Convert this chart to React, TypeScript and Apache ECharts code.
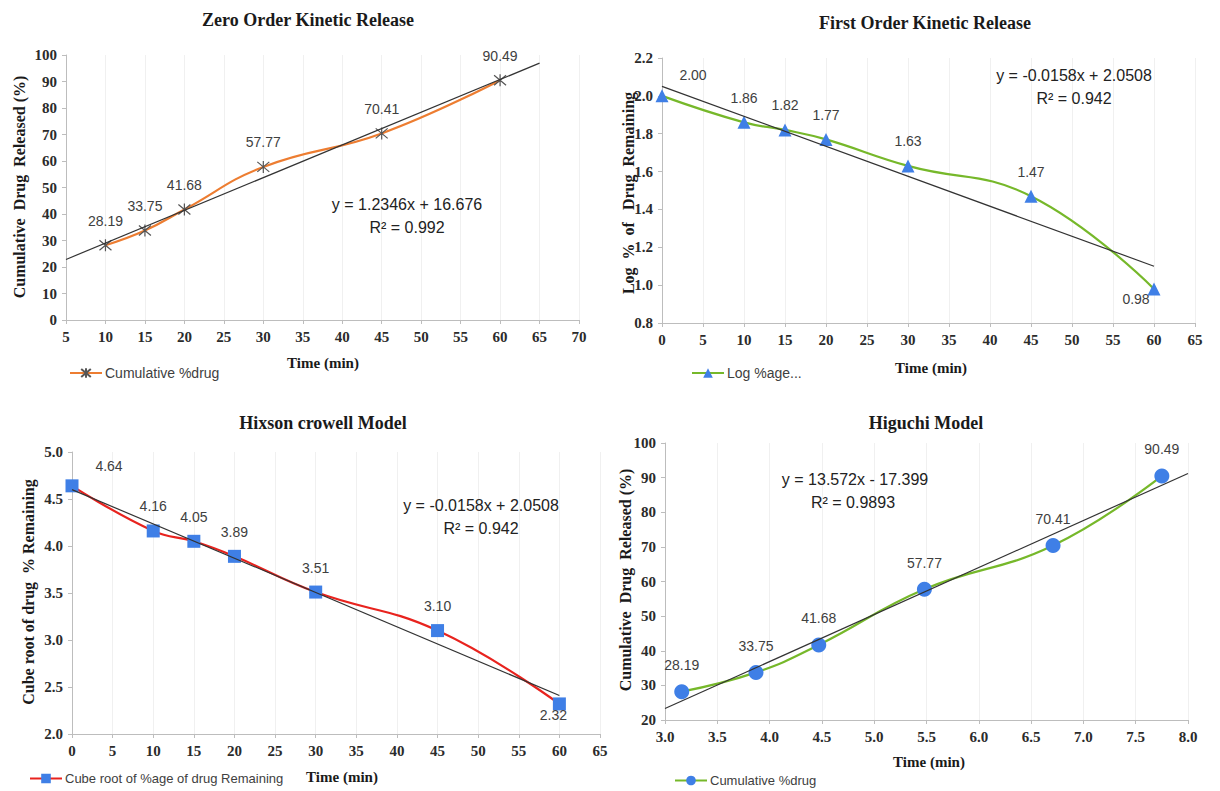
import React, { useEffect, useRef } from "react";
import * as echarts from "echarts";

// ---- Data ----
const TIME_MIN = [10, 15, 20, 30, 45, 60];
const CUM_DRUG = [28.19, 33.75, 41.68, 57.77, 70.41, 90.49];

const TIME_FO = [0, 10, 15, 20, 30, 45, 60];
const LOG_REMAINING = [2.0, 1.86, 1.82, 1.77, 1.63, 1.47, 0.98];

const TIME_HC = [0, 10, 15, 20, 30, 45, 60];
const CUBE_REMAINING = [4.64, 4.16, 4.05, 3.89, 3.51, 3.1, 2.32];

const SQRT_TIME = [3.16, 3.87, 4.47, 5.48, 6.71, 7.75];
const CUM_DRUG_HIG = [28.19, 33.75, 41.68, 57.77, 70.41, 90.49];

// trendline end points
const TREND_ZERO = [[5, 22.85], [65, 96.92]];
const TREND_FIRST = [[0, 2.05], [60, 1.1]];
const TREND_HC = [[0, 4.6], [60, 2.41]];
const TREND_HIG = [[3.0, 23.3], [8.0, 91.2]];

const TITLES = ["Zero Order Kinetic Release", "First Order Kinetic Release", "Hixson crowell Model", "Higuchi Model"];
const Y_NAMES = ["Cumulative  Drug  Released (%)", "Log  %  of   Drug  Remaining", "Cube root of drug  % Remaining", "Cumulative  Drug  Released (%)"];
const EQUATIONS = [
  ["y = 1.2346x + 16.676", "R² = 0.992"],
  ["y = -0.0158x + 2.0508", "R² = 0.942"],
  ["y = -0.0158x + 2.0508", "R² = 0.942"],
  ["y = 13.572x - 17.399", "R² = 0.9893"],
];
const LEGEND_NAMES: Record<string, string> = {
  zero: "Cumulative %drug",
  first: "Log %age...",
  hc: "Cube root of %age of drug Remaining",
  hig: "Cumulative %drug",
};

const SERIF = "'Liberation Serif', 'Times New Roman', serif";
const SANS = "'Liberation Sans', Arial, sans-serif";
const BLUE = "#3f7fe6";
const GREEN = "#76b82a";
const ORANGE = "#ed7d31";
const RED = "#e8231e";
const TREND = "#333333";

function pairs(xs: number[], ys: number[]) {
  return xs.map((x, i) => [x, ys[i]]);
}

const dec1 = (v: number) => v.toFixed(1);

function xAxis(gridIndex: number, min: number, max: number, interval: number, fmt?: (v: number) => string) {
  return {
    type: "value",
    gridIndex,
    min,
    max,
    interval,
    axisLine: { show: true, onZero: false, lineStyle: { color: "#bdbdbd" } },
    axisTick: { show: true, length: 4, lineStyle: { color: "#bdbdbd" } },
    axisLabel: { fontFamily: SERIF, fontSize: 15, fontWeight: "bold", color: "#2b2b2b", margin: 9, formatter: fmt },
    splitLine: { show: true, lineStyle: { color: "#f0f0f0" } },
  };
}

function yAxis(gridIndex: number, min: number, max: number, interval: number, fmt?: (v: number) => string) {
  return {
    type: "value",
    gridIndex,
    min,
    max,
    interval,
    axisLine: { show: true, onZero: false, lineStyle: { color: "#bdbdbd" } },
    axisTick: { show: true, length: 4, lineStyle: { color: "#bdbdbd" } },
    axisLabel: { fontFamily: SERIF, fontSize: 15, fontWeight: "bold", color: "#2b2b2b", margin: 9, formatter: fmt },
    splitLine: { show: false },
  };
}

const labelBase = {
  show: true,
  position: "top",
  distance: 11,
  fontFamily: SANS,
  fontSize: 14,
  color: "#404040",
  formatter: (p: any) => Number(p.value[1]).toFixed(2),
};

function withLabelOverrides(data: number[][], overrides: Record<number, any>) {
  return data.map((d, i) => (overrides[i] ? { value: d, label: overrides[i] } : d));
}

function trendSeries(idx: number, data: number[][]) {
  return {
    type: "line",
    xAxisIndex: idx,
    yAxisIndex: idx,
    data,
    symbol: "none",
    silent: true,
    z: 3,
    lineStyle: { color: TREND, width: 1.2 },
  };
}

function txt(x: number, y: number, text: string, font: any, extra: any = {}) {
  return {
    type: "text",
    x,
    y,
    z: 100,
    silent: true,
    ...extra,
    style: {
      text,
      fill: "#222",
      align: "center",
      verticalAlign: "middle",
      textAlign: "center",
      textVerticalAlign: "middle",
      ...font,
    },
  };
}

export default function App() {
  const ref = useRef<HTMLDivElement>(null);

  useEffect(() => {
    document.body.style.margin = "0";
    if (!ref.current) return;
    const chart = echarts.init(ref.current, undefined, { renderer: "svg" });

    const titleFont = { fontFamily: SERIF, fontSize: 18, fontWeight: "bold", fill: "#1a1a1a" };
    const axisNameFont = { fontFamily: SERIF, fontSize: 15, fontWeight: "bold", fill: "#1a1a1a" };
    const yNameFont = { fontFamily: SERIF, fontSize: 16, fontWeight: "bold", fill: "#1a1a1a" };
    const eqFont = { fontFamily: SANS, fontSize: 16, fill: "#222" };
    const ROT = Math.PI / 2;

    const option: any = {
      animation: false,
      backgroundColor: "#ffffff",
      grid: [
        { left: 66, top: 55, width: 513, height: 265 },
        { left: 662, top: 58, width: 533, height: 265 },
        { left: 72, top: 452, width: 528, height: 282 },
        { left: 665, top: 443, width: 523, height: 277 },
      ],
      xAxis: [
        xAxis(0, 5, 70, 5),
        xAxis(1, 0, 65, 5),
        xAxis(2, 0, 65, 5),
        xAxis(3, 3.0, 8.0, 0.5, dec1),
      ],
      yAxis: [
        yAxis(0, 0, 100, 10),
        yAxis(1, 0.8, 2.2, 0.2, dec1),
        yAxis(2, 2.0, 5.0, 0.5, dec1),
        yAxis(3, 20, 100, 10),
      ],
      legend: [
        { data: ["zero"], left: 67, top: 364, fs: 14 },
        { data: ["first"], left: 689, top: 364, fs: 14 },
        { data: ["hc"], left: 27, top: 770, fs: 13 },
        { data: ["hig"], left: 672, top: 772, fs: 13 },
      ].map(({ fs, ...l }) => ({
        ...l,
        itemWidth: 32,
        itemHeight: 12,
        itemGap: 4,
        padding: 2,
        selectedMode: false,
        formatter: (n: string) => LEGEND_NAMES[n],
        textStyle: { fontFamily: SANS, fontSize: fs, color: "#404040", padding: [0, 0, 0, -2] },
      })),
      series: [
        {
          name: "zero",
          type: "line",
          xAxisIndex: 0,
          yAxisIndex: 0,
          data: pairs(TIME_MIN, CUM_DRUG),
          smooth: 0.45,
          z: 2,
          symbol: "path://M0,0L10,10M10,0L0,10M5,-1L5,11",
          symbolSize: 12,
          itemStyle: { color: "#555", borderColor: "#555", borderWidth: 1.2 },
          lineStyle: { color: ORANGE, width: 2.2 },
          label: labelBase,
        },
        trendSeries(0, TREND_ZERO),
        {
          name: "first",
          type: "line",
          xAxisIndex: 1,
          yAxisIndex: 1,
          data: withLabelOverrides(pairs(TIME_FO, LOG_REMAINING), {
            0: { position: "inside", offset: [31, -21] },
            6: { position: "inside", offset: [-18, 10] },
          }),
          smooth: 0.45,
          z: 2,
          symbol: "triangle",
          symbolSize: 13,
          itemStyle: { color: BLUE },
          lineStyle: { color: GREEN, width: 2.2 },
          label: labelBase,
        },
        trendSeries(1, TREND_FIRST),
        {
          name: "hc",
          type: "line",
          xAxisIndex: 2,
          yAxisIndex: 2,
          data: withLabelOverrides(pairs(TIME_HC, CUBE_REMAINING), {
            0: { position: "inside", offset: [37, -20] },
            6: { position: "inside", offset: [-6, 11] },
          }),
          smooth: 0.45,
          z: 2,
          symbol: "rect",
          symbolSize: 13,
          itemStyle: { color: BLUE },
          lineStyle: { color: RED, width: 2.2 },
          label: labelBase,
        },
        trendSeries(2, TREND_HC),
        {
          name: "hig",
          type: "line",
          xAxisIndex: 3,
          yAxisIndex: 3,
          data: pairs(SQRT_TIME, CUM_DRUG_HIG),
          smooth: 0.45,
          z: 2,
          symbol: "circle",
          symbolSize: 15,
          itemStyle: { color: BLUE },
          lineStyle: { color: GREEN, width: 2.2 },
          label: { ...labelBase, distance: 12 },
        },
        trendSeries(3, TREND_HIG),
      ],
      graphic: [
        // titles
        txt(308, 20, TITLES[0], titleFont),
        txt(925, 23, TITLES[1], titleFont),
        txt(323, 423, TITLES[2], titleFont),
        txt(926, 423, TITLES[3], titleFont),
        // x-axis names
        txt(323, 363, "Time (min)", axisNameFont),
        txt(931, 368, "Time (min)", axisNameFont),
        txt(342, 777, "Time (min)", axisNameFont),
        txt(929, 762, "Time (min)", axisNameFont),
        // y-axis names
        txt(19, 187, Y_NAMES[0], yNameFont, { rotation: ROT }),
        txt(628, 193, Y_NAMES[1], yNameFont, { rotation: ROT }),
        txt(28, 592, Y_NAMES[2], yNameFont, { rotation: ROT }),
        txt(625, 580, Y_NAMES[3], yNameFont, { rotation: ROT }),
        // trendline equations
        txt(407, 204, EQUATIONS[0][0], eqFont),
        txt(407, 227, EQUATIONS[0][1], eqFont),
        txt(1074, 75, EQUATIONS[1][0], eqFont),
        txt(1074, 98, EQUATIONS[1][1], eqFont),
        txt(481, 505, EQUATIONS[2][0], eqFont),
        txt(481, 528, EQUATIONS[2][1], eqFont),
        txt(855, 479, EQUATIONS[3][0], eqFont),
        txt(853, 502, EQUATIONS[3][1], eqFont),
      ],
    };

    chart.setOption(option);
    return () => chart.dispose();
  }, []);

  return <div ref={ref} style={{ width: 1220, height: 791 }} />;
}
